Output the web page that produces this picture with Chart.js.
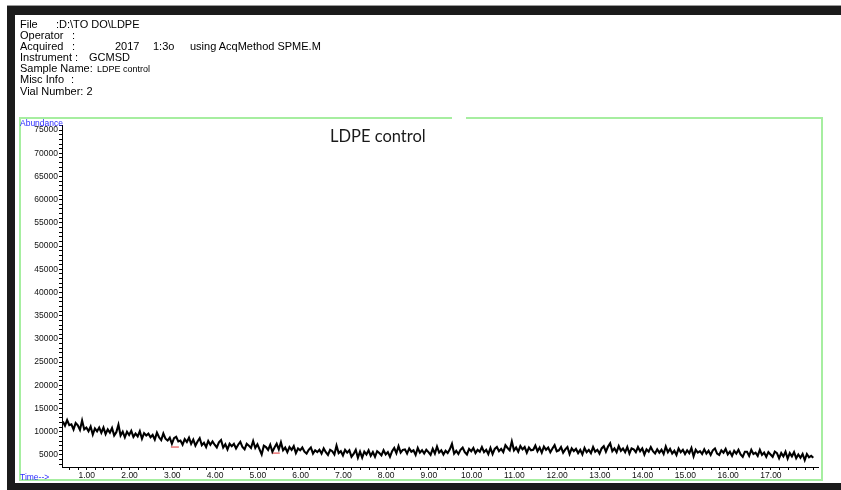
<!DOCTYPE html>
<html>
<head>
<meta charset="utf-8">
<script src="https://cdn.jsdelivr.net/npm/chart.js@4/dist/chart.umd.min.js"></script>
<style>
	body { margin: 0; background: #fff; }
	#page { position: relative; width: 841px; height: 490px; overflow: hidden; background: #fff; }
	#chromaCanvas { position: absolute; left: 0; top: 0; }
	.bar { position: absolute; background: #1b1b1b; }
	.frame { position: absolute; background: #a6eea0; }
	#header { position: absolute; left: 20px; top: 19px; font-family: "Liberation Sans", Arial, sans-serif; font-size: 11px; line-height: 11.1px; color: #000; }
	#header div { position: relative; height: 11.1px; white-space: pre; }
	#header span { position: absolute; top: 0; }
	.small { font-size: 9px; }
	.blue { position: absolute; font-family: "Liberation Sans", Arial, sans-serif; font-size: 8.5px; color: #2b2bff; }
	#plotTitle { position: absolute; left: 330px; top: 126px; font-family: Lato, "Open Sans", sans-serif; font-size: 16.5px; color: #1a1a1a; }
</style>
</head>
<body>
<div id="page">
	<canvas id="chromaCanvas" width="841" height="490"></canvas>

	<!-- scanned page edges -->
	<div class="bar" style="left:7px; top:5px; width:834px; height:1px; background:#9a9a9a;"></div>
	<div class="bar" style="left:7px; top:6px; width:834px; height:9px;"></div>
	<div class="bar" style="left:7px; top:6px; width:8px; height:484px;"></div>
	<div class="bar" style="left:7px; top:483px; width:834px; height:7px;"></div>

	<!-- green plot frame -->
	<div class="frame" style="left:19px; top:117px; width:433px; height:2px;"></div>
	<div class="frame" style="left:466px; top:117px; width:357px; height:2px;"></div>
	<div class="frame" style="left:19px; top:117px; width:2px; height:364px;"></div>
	<div class="frame" style="left:821px; top:117px; width:2px; height:364px;"></div>
	<div class="frame" style="left:19px; top:479px; width:804px; height:2px;"></div>

	<div id="header">
		<div><span style="left:0">File</span><span style="left:36px">:D:\TO DO\LDPE</span></div>
		<div><span style="left:0">Operator</span><span style="left:52px">:</span></div>
		<div><span style="left:0">Acquired</span><span style="left:52px">:</span><span style="left:95px">2017</span><span style="left:133px">1:3o</span><span style="left:170px">using AcqMethod SPME.M</span></div>
		<div><span style="left:0">Instrument :</span><span style="left:69px">GCMSD</span></div>
		<div><span style="left:0">Sample Name:</span><span class="small" style="left:77px; top:1px">LDPE control</span></div>
		<div><span style="left:0">Misc Info</span><span style="left:51px">:</span></div>
		<div><span style="left:0">Vial Number: 2</span></div>
	</div>

	<div class="blue" style="left:20px; top:118px;">Abundance</div>
	<div class="blue" style="left:20px; top:472px;">Time--&gt;</div>
	<div id="plotTitle">LDPE control</div>
</div>

<script>
// Scan timing (minutes)
const scanStart = 0.44;
const scanStep = 0.05;

// Total ion current, one row per minute of run time
const abundance = [
	12200, 11300, 12500, 11400, 11600, 10500, 11900, 11400, 10400, 12400, 10500, 10900, 10100, 11100, 9400, 10700, 10100, 10900, 9800, 10900,
	9500, 10500, 9800, 10800, 9200, 9900, 11500, 9200, 10000, 8800, 10000, 9300, 10200, 8900, 9600, 9000, 10100, 8500, 9700, 9200,
	9600, 8800, 9300, 8300, 9800, 8800, 8200, 9600, 8500, 8100, 8700, 7400, 8600, 8900, 7900, 8100, 7200, 8400, 7800, 8700,
	7400, 8300, 7000, 7900, 8600, 7100, 7600, 6700, 8000, 7200, 7900, 7200, 6600, 7700, 8200, 6600, 7300, 6200, 7400, 6900,
	7400, 6400, 7200, 7800, 6700, 6200, 7400, 7000, 6500, 8000, 6500, 7300, 6200, 5100, 7000, 6700, 6100, 7200, 5700, 6600,
	7400, 6200, 7700, 6000, 6600, 5600, 6700, 6100, 6900, 5400, 6400, 6000, 6600, 5700, 5300, 6100, 6600, 5300, 6000, 5600,
	6100, 5300, 6400, 5600, 5000, 6100, 5800, 5100, 7000, 5400, 5800, 4900, 6100, 5500, 6000, 4600, 5200, 6100, 4400, 5700,
	4400, 5700, 5100, 6000, 4800, 5600, 4600, 5800, 5400, 4900, 6000, 5100, 5600, 4600, 5800, 6500, 5400, 6900, 5500, 6100,
	6200, 5300, 6400, 5700, 6000, 5000, 6500, 5500, 6000, 5300, 6100, 5600, 5000, 6300, 5300, 6800, 5500, 6000, 5100, 5900,
	5400, 6200, 7400, 5300, 5900, 5200, 6100, 6600, 5600, 5100, 6300, 5800, 6500, 5400, 6100, 5700, 6700, 5600, 6100, 5200,
	6500, 5200, 6300, 6700, 5800, 6300, 5600, 7100, 6500, 6000, 7900, 6000, 6600, 5700, 6900, 6200, 6700, 5500, 6600, 6000,
	6100, 7000, 5800, 6600, 5500, 6800, 6100, 6600, 5600, 6400, 7100, 5800, 6000, 6700, 5500, 6200, 6700, 5200, 6400, 5800,
	6300, 5400, 6100, 5100, 6500, 5600, 6100, 5400, 6700, 5700, 6100, 5300, 6400, 6900, 5700, 6800, 7500, 5800, 6400, 5600,
	6900, 5900, 6400, 5600, 6700, 5300, 6400, 6200, 5600, 6700, 5800, 6400, 5100, 6200, 5700, 6700, 5800, 5300, 6200, 5500,
	6100, 5200, 6800, 5600, 6300, 5300, 5900, 5000, 6400, 5600, 6100, 5200, 6000, 5400, 6500, 4700, 6100, 5500, 5800, 5200,
	6200, 5300, 5900, 5000, 6000, 6400, 5300, 5000, 6000, 5500, 6300, 5100, 5700, 4800, 5900, 5300, 6100, 5100, 4600, 5700,
	5700, 4800, 6100, 5200, 5500, 4800, 6100, 5000, 5500, 4600, 5600, 5100, 4600, 5700, 5400, 4300, 5400, 4700, 5700, 4200,
	5400, 4700, 5600, 4300, 5100, 4400, 5200, 3900, 5200, 4500, 4800, 4400,
];

// Small red marks printed on the trace
const markTimes = [3.06, 5.42];
const markValues = [6700, 5400];

// Axis ranges and labelled ticks
const timeMin = 0.42;
const timeMax = 18.1;
const abundanceMin = 2400;
const abundanceMax = 76100;
const yLabelStep = 5000;
const yMinorStep = 1000;
const xMinorStep = 0.2;
const lastTimeLabel = 17;

function BuildTrace() {
	return abundance.map((value, i) => ({ x: scanStart + i * scanStep, y: value }));
}

function BuildMarks() {
	return markTimes.map((t, i) => ({ x: t, y: markValues[i] }));
}

const tickFont = { family: "'Liberation Sans', Arial, sans-serif", size: 8.5 };

const chromaChart = new Chart(document.getElementById("chromaCanvas").getContext("2d"), {
	type: "line",
	data: {
		datasets: [
			{
				data: BuildTrace(),
				borderColor: "#000",
				borderWidth: 2.1,
				pointRadius: 0,
				tension: 0,
			},
			{
				data: BuildMarks(),
				showLine: false,
				pointStyle: "line",
				pointRadius: 4,
				borderColor: "#e03030",
				borderWidth: 1,
			},
		],
	},
	options: {
		responsive: false,
		animation: false,
		devicePixelRatio: 1,
		layout: {
			padding: { left: 0, top: 125, right: 23, bottom: 0 },
		},
		plugins: {
			legend: { display: false },
			tooltip: { enabled: false },
		},
		scales: {
			x: {
				type: "linear",
				min: timeMin,
				max: timeMax,
				afterFit: function (scale) {
					scale.height = 23;
				},
				afterBuildTicks: function (scale) {
					const ticks = [];
					for (let v = 0.6; v <= 18.01; v += xMinorStep) {
						ticks.push({ value: Math.round(v * 10) / 10 });
					}
					scale.ticks = ticks;
				},
				ticks: {
					autoSkip: false,
					maxRotation: 0,
					padding: 1,
					color: "#111",
					font: tickFont,
					callback: function (value) {
						return Number.isInteger(value) && value <= lastTimeLabel ? value.toFixed(2) : "";
					},
				},
				grid: {
					drawOnChartArea: false,
					tickLength: 3,
					tickColor: "#000",
				},
				border: { display: true, color: "#000", width: 1 },
			},
			y: {
				type: "linear",
				min: abundanceMin,
				max: abundanceMax,
				afterFit: function (scale) {
					scale.width = 62;
				},
				afterBuildTicks: function (scale) {
					const ticks = [];
					for (let v = 3000; v <= 76000; v += yMinorStep) {
						ticks.push({ value: v });
					}
					scale.ticks = ticks;
				},
				ticks: {
					autoSkip: false,
					padding: 1,
					color: "#111",
					font: tickFont,
					callback: function (value) {
						return value % yLabelStep === 0 && value <= 75000 ? String(value) : "";
					},
				},
				grid: {
					drawOnChartArea: false,
					tickLength: 3,
					tickWidth: 1,
					tickColor: "#000",
				},
				border: { display: true, color: "#000", width: 1 },
			},
		},
	},
});
</script>
</body>
</html>
